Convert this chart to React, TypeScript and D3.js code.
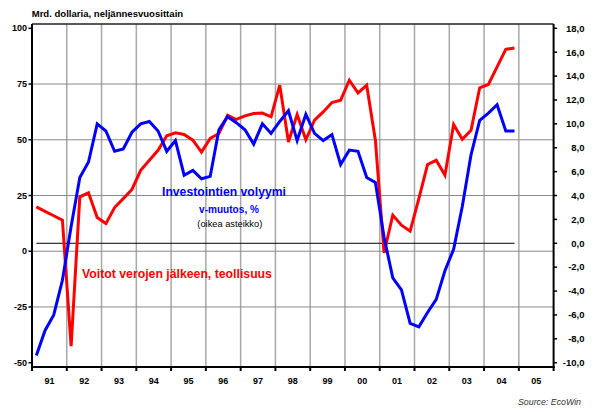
import React, { useLayoutEffect, useRef, useState } from "react";
import * as d3 from "d3";

// Quarterly data 1991Q1 .. 2004Q4
const startYear = 1991;
const profits = [
  19.9, 17.9, 15.9, 13.9, -42.6, 24.4, 26.2, 15.1, 12.4, 19.6, 23.6, 27.7, 36.3, 40.8, 45.3, 51.8,
  53.1, 52.4, 49.8, 44.5, 50.6, 52.8, 61.0, 59.1, 60.7, 61.8, 62.0, 60.3, 74.5, 49.0, 61.3, 50.0,
  58.8, 62.5, 66.7, 67.7, 76.7, 71.0, 74.5, 49.8, -0.7, 16.2, 11.7, 9.0, 23.6, 38.9, 40.8, 34.1,
  56.8, 50.2, 54.3, 73.3, 74.8, 82.7, 90.6, 91.2,
];
const investment = [
  -9.4, -7.3, -6.0, -3.1, 1.4, 5.5, 6.8, 10.0, 9.4, 7.7, 7.9, 9.3, 10.0, 10.2, 9.4, 7.7,
  8.6, 5.7, 6.1, 5.4, 5.6, 9.5, 10.6, 10.1, 9.5, 8.3, 10.0, 9.2, 10.2, 11.1, 8.6, 10.8,
  9.2, 8.6, 9.1, 6.6, 7.8, 7.7, 5.5, 5.1, 0.5, -2.9, -3.9, -6.7, -7.0, -5.8, -4.7, -2.3,
  -0.5, 3.1, 7.4, 10.3, 10.9, 11.6, 9.4, 9.4,
];
const years = [1991, 1992, 1993, 1994, 1995, 1996, 1997, 1998, 1999, 2000, 2001, 2002, 2003, 2004, 2005];
const yearLabels = ["91", "92", "93", "94", "95", "96", "97", "98", "99", "00", "01", "02", "03", "04", "05"];
const leftTicks = [-50, -25, 0, 25, 50, 75, 100];
const leftGrid = [-25, 0, 25, 50, 75];
const rightTicks = [-10, -8, -6, -4, -2, 0, 2, 4, 6, 8, 10, 12, 14, 16, 18];

const title = "Mrd. dollaria, neljännesvuosittain";
const source = "Source: EcoWin";
const blueLabel = "Investointien volyymi";
const blueSub = "v-muutos, %";
const blueNote = "(oikea asteikko)";
const redLabel = "Voitot verojen jälkeen, teollisuus";

const W = 597;
const H = 412;
const L = 32;
const R = 553.6;
const T = 24;
const B = 367;

type FitProps = {
  x: number;
  y: number;
  width: number;
  base: number;
  anchor?: "start" | "middle" | "end";
  weight?: string;
  italic?: boolean;
  fill: string;
  children: string;
};

function FitText({ x, y, width, base, anchor = "start", weight = "normal", italic = false, fill, children }: FitProps) {
  const ref = useRef<SVGTextElement>(null);
  const [size, setSize] = useState(base);
  useLayoutEffect(() => {
    if (ref.current) {
      const len = ref.current.getComputedTextLength();
      if (len > 0) setSize((base * width) / len);
    }
  }, [base, width, children]);
  return (
    <text
      ref={ref}
      x={x}
      y={y}
      textAnchor={anchor}
      fontSize={ref.current ? size : base}
      fontWeight={weight}
      fontStyle={italic ? "italic" : "normal"}
      fill={fill}
    >
      {children}
    </text>
  );
}

export default function App() {
  const quarters = profits.map((_, i) => startYear + (i + 0.5) / 4);
  const x = d3.scaleLinear().domain([1991, 2006]).range([L, R]);
  const yL = d3.scaleLinear().domain([-50, 100]).range([362.7, 28.3]);
  const yR = d3.scaleLinear().domain([-10, 18]).range([362.7, 28.3]);

  const redLine = d3
    .line<number>()
    .x((_, i) => x(quarters[i]))
    .y((d) => yL(d))(profits) as string;
  const blueLine = d3
    .line<number>()
    .x((_, i) => x(quarters[i]))
    .y((d) => yR(d))(investment) as string;

  const font = "Arial, 'Liberation Sans', Helvetica, sans-serif";
  const fmt = (v: number) => v.toFixed(1).replace(".", ",");

  return (
    <svg
      width={W}
      height={H}
      style={{ position: "absolute", left: 0, top: 0, background: "#fff" }}
      fontFamily={font}
    >
      <rect x={0} y={0} width={W} height={H} fill="#fff" />
      {/* vertical gridlines */}
      {years.slice(1).map((yr) => (
        <line key={"vg" + yr} x1={x(yr)} x2={x(yr)} y1={T} y2={B} stroke="#a8a8a8" strokeWidth={1.5} />
      ))}
      {/* horizontal gridlines */}
      {leftGrid.map((v) => (
        <line key={"hg" + v} x1={L} x2={R} y1={yL(v)} y2={yL(v)} stroke="#8a8a8a" strokeWidth={1} />
      ))}
      {/* zero line of right axis */}
      <line
        x1={x(quarters[0])}
        x2={x(quarters[quarters.length - 1])}
        y1={yR(0)}
        y2={yR(0)}
        stroke="#000"
        strokeWidth={1}
      />
      {/* frame */}
      <line x1={L} x2={R} y1={T} y2={T} stroke="#222" strokeWidth={1.5} />
      <line x1={L} x2={L} y1={T} y2={B + 1} stroke="#000" strokeWidth={2} />
      <line x1={R} x2={R} y1={T} y2={B + 1} stroke="#000" strokeWidth={2} />
      <line x1={L - 1} x2={R + 1} y1={B} y2={B} stroke="#000" strokeWidth={2} />

      {/* series */}
      <path d={redLine} fill="none" stroke="#ff0000" strokeWidth={3} strokeLinejoin="miter" strokeMiterlimit={4} />
      <path d={blueLine} fill="none" stroke="#0000ff" strokeWidth={3} strokeLinejoin="miter" strokeMiterlimit={4} />

      {/* left axis */}
      {leftTicks.map((v) => (
        <g key={"lt" + v}>
          <line x1={L - 3.5} x2={L} y1={yL(v)} y2={yL(v)} stroke="#000" strokeWidth={1.5} />
          <text x={27} y={yL(v)} dy="0.35em" textAnchor="end" fontSize={9} fontWeight="bold" fill="#000">
            {v}
          </text>
        </g>
      ))}
      {/* right axis */}
      {rightTicks.map((v) => (
        <g key={"rt" + v}>
          <line x1={R} x2={R + 3.5} y1={yR(v)} y2={yR(v)} stroke="#000" strokeWidth={1.5} />
          <text x={584.5} y={yR(v)} dy="0.35em" textAnchor="end" fontSize={9.5} fontWeight="bold" fill="#000">
            {fmt(v)}
          </text>
        </g>
      ))}
      {/* bottom axis */}
      {years.concat([2006]).map((yr) => (
        <line key={"bt" + yr} x1={x(yr)} x2={x(yr)} y1={B} y2={B + 4} stroke="#000" strokeWidth={2} />
      ))}
      {years.map((yr, i) => (
        <text
          key={"yl" + yr}
          x={x(yr + 0.5)}
          y={383.5}
          textAnchor="middle"
          fontSize={9}
          fontWeight="bold"
          fill="#000"
        >
          {yearLabels[i]}
        </text>
      ))}

      {/* title */}
      <FitText x={31.7} y={17.3} width={151.6} base={9} weight="bold" fill="#000">
        {title}
      </FitText>

      {/* annotations */}
      <FitText x={162} y={196} width={124} base={12.2} weight="bold" fill="#0000ff">
        {blueLabel}
      </FitText>
      <FitText x={229} y={213} width={60} base={10} anchor="middle" weight="bold" fill="#0000ff">
        {blueSub}
      </FitText>
      <FitText x={229.8} y={226.5} width={65} base={9.3} anchor="middle" fill="#000">
        {blueNote}
      </FitText>
      <FitText x={82} y={277.5} width={190} base={12.2} weight="bold" fill="#ff0000">
        {redLabel}
      </FitText>

      {/* source */}
      <FitText x={581} y={405} width={63} base={8.8} anchor="end" italic fill="#333">
        {source}
      </FitText>
    </svg>
  );
}
